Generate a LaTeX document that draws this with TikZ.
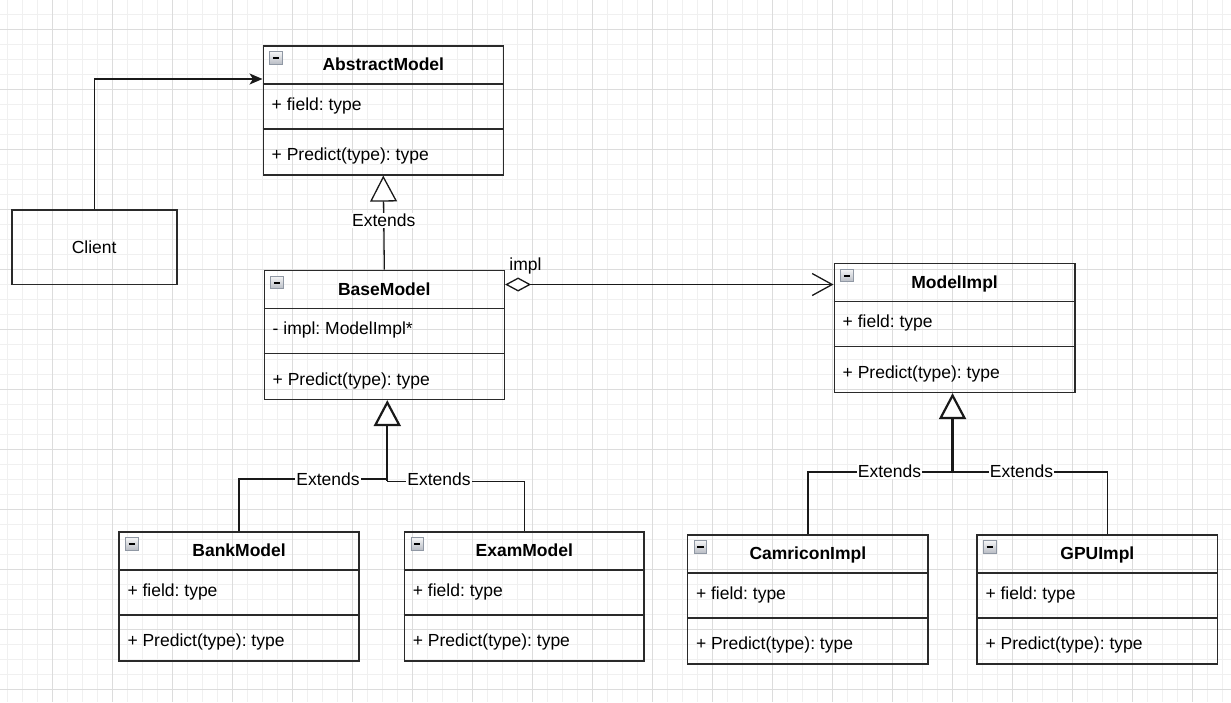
\documentclass[tikz,border=0pt]{standalone}
\usepackage{fontspec}
\setmainfont{Liberation Sans}
\usetikzlibrary{arrows.meta}
\definecolor{gridmajor}{HTML}{DCDCDC}
\definecolor{gridminor}{HTML}{F0F0F0}
\definecolor{stroke}{HTML}{2A2A2A}
\definecolor{iconfill}{HTML}{B8BCC4}
\definecolor{iconedge}{HTML}{9098A4}
\tikzset{
  boxline/.style={draw=stroke, line width=1.6pt},
  classbox/.style={boxline, inner sep=0pt, anchor=north west, minimum height=129pt},
  titletext/.style={font=\fontsize{17.5}{20}\selectfont\bfseries, inner sep=0pt, anchor=base},
  bodytext/.style={font=\fontsize{17.5}{20}\selectfont, inner sep=0pt, anchor=base west},
  iconbox/.style={draw=iconedge, top color=white!85!iconfill, bottom color=iconfill, minimum size=12.5pt, inner sep=0pt, line width=0.9pt,
    path picture={\draw[line width=2pt, black] ([xshift=3pt]path picture bounding box.west) -- ([xshift=-3pt]path picture bounding box.east);}},
  conn/.style={draw=black!90, line width=1.3pt},
  lbl/.style={fill=white, font=\fontsize{17.5}{20}\selectfont, inner sep=1pt},
  inherit/.style={conn, -{Triangle[length=26pt,width=27pt,fill=white]}},
  gridminorline/.style={draw=gridminor, line width=1pt},
  gridmajorline/.style={draw=gridmajor, line width=1pt},
}
\newcommand\umlclass[7]{%
  \node[classbox, minimum width=#4pt] (#1) at (#2,#3) {};
  \draw[boxline] ([yshift=-39pt]#1.north west) -- ([yshift=-39pt]#1.north east);
  \draw[boxline] ([yshift=-84pt]#1.north west) -- ([yshift=-84pt]#1.north east);
  \node[iconbox] (#1-icon) at ([xshift=13.5pt,yshift=-13pt]#1.north west) {};
  \node[titletext] (#1-title) at ([yshift=-25.5pt]#1.north) {#5};
  \node[bodytext] (#1-field) at ([xshift=9pt,yshift=-65pt]#1.north west) {#6};
  \node[bodytext] (#1-method) at ([xshift=9pt,yshift=-115.5pt]#1.north west) {#7};
}
\frenchspacing
\begin{document}
\begin{tikzpicture}[x=1pt, y=-1pt]
\useasboundingbox (0,0) rectangle (1231,702);
\fill[white] (0,0) rectangle (1231,702);
% grid
\foreach \x in {7,22,...,1231} \draw[gridminorline] (\x,0) -- (\x,702);
\foreach \y in {14,29,...,702} \draw[gridminorline] (0,\y) -- (1231,\y);
\foreach \x in {52,112,...,1231} \draw[gridmajorline] (\x,0) -- (\x,702);
\foreach \y in {29,89,...,702} \draw[gridmajorline] (0,\y) -- (1231,\y);

% classes
\umlclass{abs}{262.5}{45}{240}{AbstractModel}{+ field: type}{+ Predict(type): type}
\umlclass{base}{263.5}{269.5}{240}{BaseModel}{- impl: ModelImpl*}{+ Predict(type): type}
\umlclass{mi}{833.5}{262.5}{240.5}{ModelImpl}{+ field: type}{+ Predict(type): type}
\umlclass{bank}{118.3}{531}{240}{BankModel}{+ field: type}{+ Predict(type): type}
\umlclass{exam}{403.7}{531}{239.5}{ExamModel}{+ field: type}{+ Predict(type): type}
\umlclass{cam}{686.8}{534}{240.5}{CamriconImpl}{+ field: type}{+ Predict(type): type}
\umlclass{gpu}{976.3}{534}{240.5}{GPUImpl}{+ field: type}{+ Predict(type): type}

% client
\node[boxline, minimum width=165pt, minimum height=74.5pt, inner sep=0pt,
      font=\fontsize{17.5}{20}\selectfont] (client) at (94.2,247.2) {Client};

% client -> AbstractModel
\coordinate (absin) at ([yshift=-34pt]abs.north west);
\draw[conn, -{Stealth[length=13pt,width=11pt,inset=3.5pt]}] (client.north) |- (absin);

% BaseModel extends AbstractModel
\draw[inherit] (base.north) -- node[lbl, pos=0.52] (ext0) {Extends} (abs.south);

% aggregation
\coordinate (aggs) at ([yshift=-15pt]base.north east);
\draw[conn, {Diamond[length=26pt,width=14pt,fill=white]}-{Straight Barb[length=20pt,width=22pt]}]
  (aggs) -- (aggs -| mi.west);
\node[font=\fontsize{17.5}{20}\selectfont, inner sep=0pt] (impllbl) at (525.5,266) {impl};

% BankModel / ExamModel extend BaseModel
\coordinate (bj) at ([xshift=3pt]base.south);
\draw[conn] (bank.north) -- (bank.north |- 0,479) -- (bj |- 0,479);
\draw[conn] (exam.north) -- (exam.north |- 0,481.5) -- (bj |- 0,481.5);
\draw[inherit, line width=2.2pt] (bj |- 0,480.5) -- (bj);
\node[lbl] (ext1) at (328,479) {Extends};
\node[lbl] (ext2) at (439,479.5) {Extends};

% CamriconImpl / GPUImpl extend ModelImpl
\coordinate (mj) at ([xshift=-2pt]mi.south);
\coordinate (gj) at ([xshift=10.3pt]gpu.north);
\draw[conn] (cam.north) -- (cam.north |- 0,472) -- (mj |- 0,472);
\draw[conn] (gj) -- (gj |- 0,472) -- (mj |- 0,472);
\draw[inherit, line width=2.2pt] (mj |- 0,472) -- (mj);
\node[lbl] (ext3) at (889.5,471.5) {Extends};
\node[lbl] (ext4) at (1021.5,471.5) {Extends};
\end{tikzpicture}
\end{document}
